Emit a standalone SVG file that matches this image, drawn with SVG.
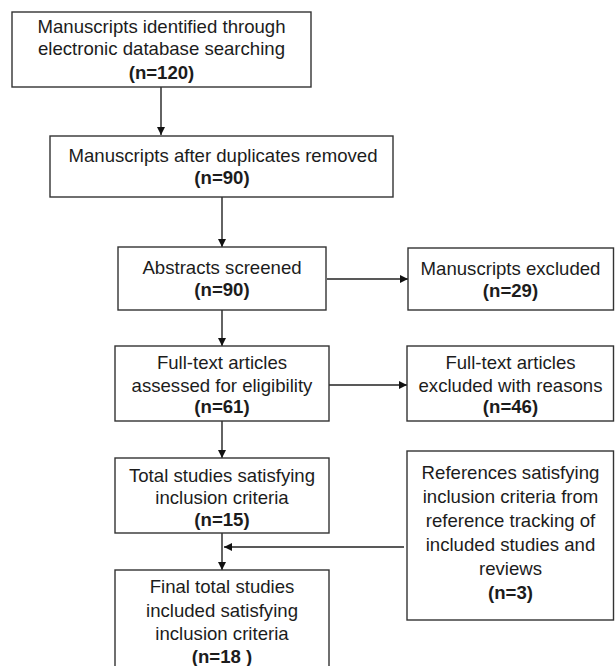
<svg xmlns="http://www.w3.org/2000/svg" width="615" height="666" viewBox="0 0 615 666">
<defs>
<style>
.box{fill:#fff;stroke:#333;stroke-width:1.4}
.t{font-family:"Liberation Sans",Arial,sans-serif;font-size:18.6px;fill:#1c1c1c;text-anchor:middle}
.b{font-weight:bold}
.c{stroke:#222;stroke-width:1.4;fill:none}
</style>
<marker id="ah" markerWidth="10" markerHeight="10" refX="9" refY="5" orient="auto" markerUnits="userSpaceOnUse">
<path d="M1,1 L9,5 L1,9 Z" fill="#111"/>
</marker>
</defs>
<rect width="615" height="666" fill="#fff"/>
<g id="connectors">
<line class="c" x1="161" y1="87" x2="161" y2="135" marker-end="url(#ah)"/>
<line class="c" x1="222" y1="197" x2="222" y2="247" marker-end="url(#ah)"/>
<line class="c" x1="327" y1="279" x2="408" y2="279" marker-end="url(#ah)"/>
<line class="c" x1="222" y1="310" x2="222" y2="346" marker-end="url(#ah)"/>
<line class="c" x1="329" y1="385" x2="407" y2="385" marker-end="url(#ah)"/>
<line class="c" x1="222" y1="421" x2="222" y2="458" marker-end="url(#ah)"/>
<line class="c" x1="222" y1="533" x2="222" y2="570" marker-end="url(#ah)"/>
<line class="c" x1="404" y1="547" x2="224" y2="547" marker-end="url(#ah)"/>
</g>
<g id="n1">
<rect class="box" x="12" y="12" width="299" height="75"/>
<text class="t" x="161.5" y="33">Manuscripts identified through</text>
<text class="t" x="161.5" y="55">electronic database searching</text>
<text class="t b" x="161.5" y="79">(n=120)</text>
</g>
<g id="n2">
<rect class="box" x="50" y="136" width="343" height="61"/>
<text class="t" x="223" y="162">Manuscripts after duplicates removed</text>
<text class="t b" x="222" y="184">(n=90)</text>
</g>
<g id="n3">
<rect class="box" x="118" y="247" width="208" height="63"/>
<text class="t" x="222" y="274">Abstracts screened</text>
<text class="t b" x="222" y="296">(n=90)</text>
</g>
<g id="n4">
<rect class="box" x="408" y="248" width="205.5" height="62"/>
<text class="t" x="510.5" y="275">Manuscripts excluded</text>
<text class="t b" x="510.5" y="297">(n=29)</text>
</g>
<g id="n5">
<rect class="box" x="115" y="346" width="214" height="75"/>
<text class="t" x="222" y="369">Full-text articles</text>
<text class="t" x="222" y="392">assessed for eligibility</text>
<text class="t b" x="222" y="413">(n=61)</text>
</g>
<g id="n6">
<rect class="box" x="407" y="346" width="206.5" height="75"/>
<text class="t" x="510.5" y="369">Full-text articles</text>
<text class="t" x="510.5" y="392">excluded with reasons</text>
<text class="t b" x="510.5" y="413">(n=46)</text>
</g>
<g id="n7">
<rect class="box" x="115" y="458" width="214" height="75"/>
<text class="t" x="222" y="482">Total studies satisfying</text>
<text class="t" x="222" y="504">inclusion criteria</text>
<text class="t b" x="222" y="526">(n=15)</text>
</g>
<g id="n8">
<rect class="box" x="407" y="451" width="206.5" height="169"/>
<text class="t" x="510.5" y="479">References satisfying</text>
<text class="t" x="510.5" y="503">inclusion criteria from</text>
<text class="t" x="510.5" y="527">reference tracking of</text>
<text class="t" x="510.5" y="551">included studies and</text>
<text class="t" x="510.5" y="575">reviews</text>
<text class="t b" x="510.5" y="599">(n=3)</text>
</g>
<g id="n9">
<rect class="box" x="115" y="570" width="214" height="110"/>
<text class="t" x="222" y="593">Final total studies</text>
<text class="t" x="222" y="617">included satisfying</text>
<text class="t" x="222" y="640">inclusion criteria</text>
<text class="t b" x="222" y="663">(n=18 )</text>
</g>
</svg>
